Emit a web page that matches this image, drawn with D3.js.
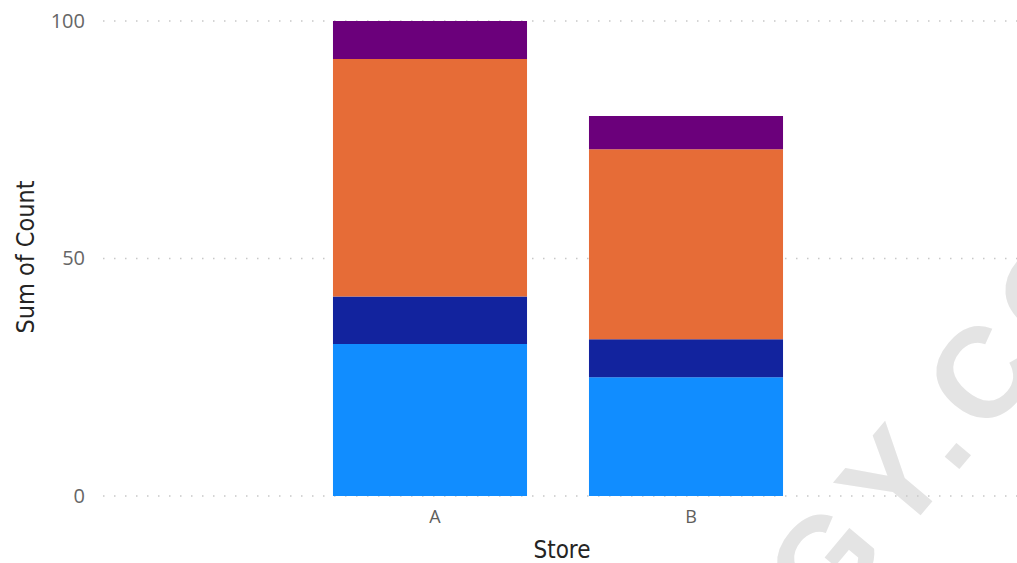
<!DOCTYPE html>
<html>
<head>
<meta charset="utf-8">
<script src="https://cdn.jsdelivr.net/npm/d3@7"></script>
<style>
  body { margin: 0; background: #fff; }
  svg { display: block; }
</style>
</head>
<body>
<div class="chart"></div>
<script>
// ---------------- DATA
var stores = ["A", "B"];
var seriesNames = ["s1", "s2", "s3", "s4"];
var s1 = [32, 25];
var s2 = [10, 8];
var s3 = [50, 40];
var s4 = [8, 7];
var yTicks = [0, 50, 100];
var colors = ["#118DFF", "#12239E", "#E66C37", "#6B007B"];

var width = 1017, height = 563;
var margin = {left: 103, right: 0, top: 21, bottom: 67};

var svg = d3.select(".chart").append("svg")
  .attr("width", width)
  .attr("height", height);

// watermark
svg.append("text")
  .attr("transform", "translate(753,715) rotate(-50)")
  .attr("font-family", "Liberation Sans")
  .attr("font-weight", "bold")
  .attr("font-size", 128)
  .attr("letter-spacing", 14)
  .attr("fill", "#e4e4e4")
  .text("OGY.COM");

// ---------------- SCALES
var y = d3.scaleLinear()
  .domain([0, 100])
  .range([height - margin.bottom, margin.top]);

var x = d3.scaleBand()
  .domain(stores)
  .range([302, 814])
  .paddingInner(0.242)
  .paddingOuter(0.121);

// gridlines (dotted)
svg.append("g")
  .selectAll("line")
  .data(yTicks)
  .enter().append("line")
  .attr("x1", margin.left)
  .attr("x2", width - margin.right)
  .attr("y1", function(d){ return y(d); })
  .attr("y2", function(d){ return y(d); })
  .attr("stroke", "#c8c8c8")
  .attr("stroke-width", 1.5)
  .attr("stroke-dasharray", "1.5,9.5");

// ---------------- STACK
var table = stores.map(function(s, i){
  return {store: s, s1: s1[i], s2: s2[i], s3: s3[i], s4: s4[i]};
});
var stacked = d3.stack().keys(seriesNames)(table);

svg.append("g")
  .selectAll("g")
  .data(stacked)
  .enter().append("g")
  .attr("fill", function(d, i){ return colors[i]; })
  .selectAll("rect")
  .data(function(d){ return d; })
  .enter().append("rect")
  .attr("x", function(d){ return x(d.data.store); })
  .attr("width", x.bandwidth())
  .attr("y", function(d){ return y(d[1]); })
  .attr("height", function(d){ return y(d[0]) - y(d[1]); });

// ---------------- AXES
var yAxis = d3.axisLeft(y).tickValues(yTicks).tickSize(0).tickPadding(0);
var gy = svg.append("g")
  .attr("transform", "translate(85,0)")
  .call(yAxis);
gy.select(".domain").remove();
gy.selectAll("text")
  .attr("font-family", "Open Sans")
  .attr("font-size", 20)
  .attr("fill", "#666666");

var xAxis = d3.axisBottom(x).tickSize(0).tickPadding(14);
var gx = svg.append("g")
  .attr("transform", "translate(0," + (height - margin.bottom) + ")")
  .call(xAxis);
gx.select(".domain").remove();
gx.selectAll("text")
  .attr("dx", 5)
  .attr("font-family", "Open Sans")
  .attr("font-size", 18)
  .attr("fill", "#605E5C");

// axis titles
svg.append("text")
  .attr("x", 562)
  .attr("y", 558)
  .attr("text-anchor", "middle")
  .attr("font-family", "DejaVu Sans Condensed")
  .attr("font-size", 24)
  .attr("fill", "#252423")
  .text("Store");

svg.append("text")
  .attr("transform", "translate(34,257) rotate(-90)")
  .attr("text-anchor", "middle")
  .attr("font-family", "DejaVu Sans Condensed")
  .attr("font-size", 25)
  .attr("fill", "#252423")
  .text("Sum of Count");
</script>
</body>
</html>
